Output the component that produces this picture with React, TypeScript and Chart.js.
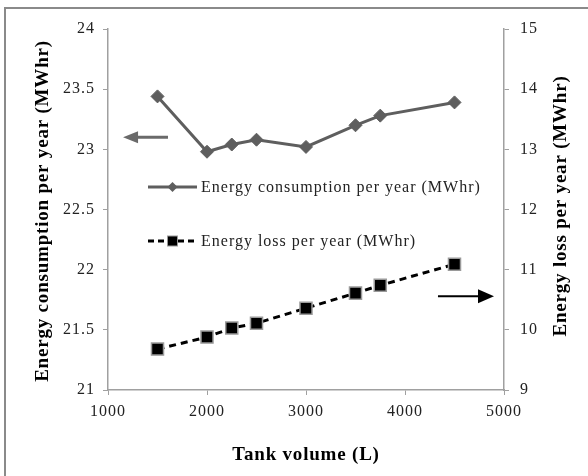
import { useEffect, useRef } from 'react';
import { Chart, registerables } from 'chart.js';

Chart.register(...registerables);

// ---- data ----
const tankVolume = [1500, 2000, 2250, 2500, 3000, 3500, 3750, 4500];
const consumption = [23.44, 22.98, 23.04, 23.08, 23.02, 23.2, 23.28, 23.39];
const loss = [9.68, 9.88, 10.03, 10.11, 10.36, 10.61, 10.74, 11.09];

const xTicks = [1000, 2000, 3000, 4000, 5000];
const leftTicks = [21, 21.5, 22, 22.5, 23, 23.5, 24];
const rightTicks = [9, 10, 11, 12, 13, 14, 15];

const seriesLabels = ['Energy consumption per year (MWhr)', 'Energy loss per year (MWhr)'];
const xTitle = 'Tank volume (L)';
const leftTitle = 'Energy consumption per year (MWhr)';
const rightTitle = 'Energy loss per year (MWhr)';

// arrows in data units: [xFrom, xTo, yValue]
const arrowConsumption = [1606, 1152, 23.1];
const arrowLoss = [4333, 4899, 10.56];

// ---- styles ----
const FONT = '"Liberation Serif", "Times New Roman", serif';
const GRAY = '#5e5e5e';
const AXIS = '#a0a0a0';
const TEXT = '#222222';

function drawArrow(ctx: CanvasRenderingContext2D, x0: number, x1: number, y: number, color: string, lw: number, hl: number, hw: number) {
  const dir = Math.sign(x1 - x0);
  ctx.strokeStyle = color;
  ctx.fillStyle = color;
  ctx.lineWidth = lw;
  ctx.setLineDash([]);
  ctx.beginPath();
  ctx.moveTo(x0, y);
  ctx.lineTo(x1 - dir * hl * 0.8, y);
  ctx.stroke();
  ctx.beginPath();
  ctx.moveTo(x1, y);
  ctx.lineTo(x1 - dir * hl, y - hw / 2);
  ctx.lineTo(x1 - dir * hl, y + hw / 2);
  ctx.closePath();
  ctx.fill();
}

const decor = {
  id: 'decor',
  beforeDraw(chart: any) {
    chart.ctx.letterSpacing = '1px';
  },
  afterDraw(chart: any) {
    const { ctx, chartArea: a, scales } = chart;
    ctx.save();
    ctx.letterSpacing = '0px';
    // outer frame
    ctx.strokeStyle = '#8a8a8a';
    ctx.lineWidth = 2;
    ctx.beginPath();
    ctx.moveTo(5, chart.height);
    ctx.lineTo(5, 8);
    ctx.lineTo(chart.width, 8);
    ctx.stroke();

    // arrows
    drawArrow(ctx, scales.x.getPixelForValue(arrowConsumption[0]), scales.x.getPixelForValue(arrowConsumption[1]),
      scales.y.getPixelForValue(arrowConsumption[2]), '#6a6a6a', 3, 15, 12);
    drawArrow(ctx, scales.x.getPixelForValue(arrowLoss[0]), scales.x.getPixelForValue(arrowLoss[1]),
      scales.y2.getPixelForValue(arrowLoss[2]), '#000000', 2, 16, 14);

    // titles
    ctx.letterSpacing = '0.8px';
    ctx.fillStyle = '#000';
    ctx.font = `bold 19px ${FONT}`;
    ctx.textAlign = 'center';
    ctx.textBaseline = 'alphabetic';
    ctx.fillText(xTitle, (a.left + a.right) / 2, 460);
    ctx.save();
    ctx.translate(48, 211);
    ctx.rotate(-Math.PI / 2);
    ctx.fillText(leftTitle, 0, 0);
    ctx.restore();
    ctx.save();
    ctx.translate(566, 206);
    ctx.rotate(-Math.PI / 2);
    ctx.fillText(rightTitle, 0, 0);
    ctx.restore();

    // legend
    const lx = a.left + 40;
    const lx2 = lx + 49;
    const ys = [a.top + 158, a.top + 212];
    // item 1
    ctx.setLineDash([]);
    ctx.strokeStyle = GRAY;
    ctx.lineWidth = 3;
    ctx.beginPath();
    ctx.moveTo(lx, ys[0]);
    ctx.lineTo(lx2, ys[0]);
    ctx.stroke();
    ctx.fillStyle = GRAY;
    const cx = (lx + lx2) / 2;
    ctx.beginPath();
    ctx.moveTo(cx, ys[0] - 5);
    ctx.lineTo(cx + 5, ys[0]);
    ctx.lineTo(cx, ys[0] + 5);
    ctx.lineTo(cx - 5, ys[0]);
    ctx.closePath();
    ctx.fill();
    // item 2
    ctx.strokeStyle = '#000';
    ctx.lineWidth = 3;
    ctx.setLineDash([6, 4]);
    ctx.beginPath();
    ctx.moveTo(lx, ys[1]);
    ctx.lineTo(lx2, ys[1]);
    ctx.stroke();
    ctx.setLineDash([]);
    ctx.fillStyle = '#000';
    ctx.fillRect(cx - 5, ys[1] - 5, 10, 10);
    ctx.strokeStyle = '#999';
    ctx.lineWidth = 1;
    ctx.strokeRect(cx - 5, ys[1] - 5, 10, 10);

    ctx.letterSpacing = '1px';
    ctx.fillStyle = TEXT;
    ctx.font = `16px ${FONT}`;
    ctx.textAlign = 'left';
    ctx.textBaseline = 'alphabetic';
    ctx.fillText(seriesLabels[0], lx2 + 4, ys[0] + 5);
    ctx.fillText(seriesLabels[1], lx2 + 4, ys[1] + 5);
    ctx.restore();
  },
};

const plain = (v: any) => String(v);

export default function App() {
  const ref = useRef<HTMLCanvasElement>(null);
  useEffect(() => {
    const tickFont = { family: FONT, size: 16 };
    const chart = new Chart(ref.current as HTMLCanvasElement, {
      type: 'line',
      data: {
        datasets: [
          {
            label: seriesLabels[0],
            data: tankVolume.map((x, i) => ({ x, y: consumption[i] })),
            yAxisID: 'y',
            borderColor: GRAY,
            backgroundColor: GRAY,
            borderWidth: 3,
            pointStyle: 'rectRot',
            pointRadius: 6.5,
            pointBackgroundColor: GRAY,
            pointBorderColor: GRAY,
            pointBorderWidth: 1,
            tension: 0,
          },
          {
            label: seriesLabels[1],
            data: tankVolume.map((x, i) => ({ x, y: loss[i] })),
            yAxisID: 'y2',
            borderColor: '#000',
            backgroundColor: '#000',
            borderWidth: 3,
            borderDash: [7, 5],
            pointStyle: 'rect',
            pointRadius: 8.5,
            pointBackgroundColor: '#000',
            pointBorderColor: '#9a9a9a',
            pointBorderWidth: 1.5,
            tension: 0,
          },
        ],
      },
      options: {
        animation: false,
        responsive: true,
        maintainAspectRatio: false,
        layout: { padding: { top: 29, left: 0, right: 0, bottom: 0 } },
        plugins: { legend: { display: false }, tooltip: { enabled: false } },
        scales: {
          x: {
            type: 'linear',
            min: xTicks[0],
            max: xTicks[xTicks.length - 1],
            afterBuildTicks: (s: any) => { s.ticks = xTicks.map((v) => ({ value: v })); },
            afterFit: (s: any) => { s.height = 86; },
            ticks: { font: tickFont, color: TEXT, padding: 7, maxRotation: 0, callback: plain },
            grid: { display: true, drawOnChartArea: false, drawTicks: true, tickLength: 5, color: AXIS },
            border: { display: true, color: AXIS, width: 1.5 },
          },
          y: {
            type: 'linear',
            position: 'left',
            min: leftTicks[0],
            max: leftTicks[leftTicks.length - 1],
            afterBuildTicks: (s: any) => { s.ticks = leftTicks.map((v) => ({ value: v })); },
            afterFit: (s: any) => { s.width = 108; },
            ticks: { font: tickFont, color: TEXT, padding: 8, callback: plain },
            grid: { display: true, drawOnChartArea: false, drawTicks: true, tickLength: 5, color: AXIS },
            border: { display: true, color: AXIS, width: 1.5 },
          },
          y2: {
            type: 'linear',
            position: 'right',
            min: rightTicks[0],
            max: rightTicks[rightTicks.length - 1],
            afterBuildTicks: (s: any) => { s.ticks = rightTicks.map((v) => ({ value: v })); },
            afterFit: (s: any) => { s.width = 84; },
            ticks: { font: tickFont, color: TEXT, padding: 11, callback: plain },
            grid: { display: true, drawOnChartArea: false, drawTicks: true, tickLength: 5, color: AXIS },
            border: { display: true, color: AXIS, width: 1.5 },
          },
        },
      },
      plugins: [decor],
    } as any);
    return () => chart.destroy();
  }, []);
  return (
    <div style={{ position: 'absolute', left: 0, top: 0, width: 588, height: 476 }}>
      <canvas ref={ref} />
    </div>
  );
}
